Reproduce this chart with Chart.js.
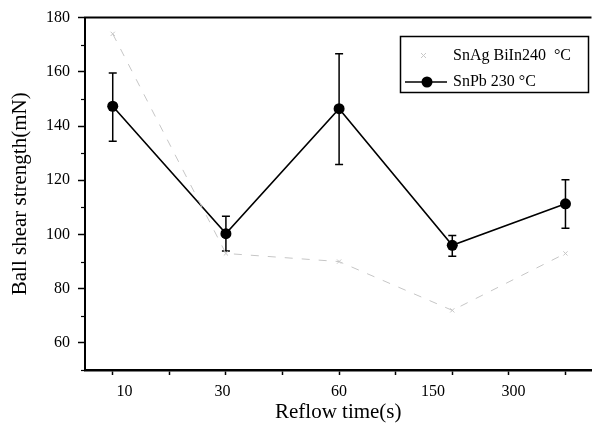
<!DOCTYPE html>
<html><head><meta charset="utf-8">
<script src="https://cdn.jsdelivr.net/npm/chart.js@4/dist/chart.umd.min.js"></script>
<style>html,body{margin:0;padding:0;background:#fff}#wrap{width:597px;height:431px}</style>
</head><body><div id="wrap"><canvas id="c" width="597" height="431"></canvas></div>
<script>
// ---- data ----
const categories = ['10', '30', '60', '150', '300'];          // reflow time (s)
const snpbMean = [147.3, 100.3, 146.4, 96.0, 111.3];           // SnPb 230 °C
const snpbHigh = [159.6, 106.7, 166.7, 99.6, 120.2];
const snpbLow  = [134.4, 93.9, 125.8, 92.0, 102.3];
const snagMean = [174, 93, 90, 72, 93];                        // SnAg BiIn 240 °C
const yTickValues = [60, 80, 100, 120, 140, 160, 180];
const seriesNames = ['SnAg BiIn240\u00a0 \u00b0C', 'SnPb 230 \u00b0C'];

// ---- layout / style (not data) ----
const FONT = '"Liberation Serif", "Times New Roman", serif';
const xMarkStep = 0.5;
const xLabelOffsets = [0.105, 0.97, 2.0, 2.83, 3.54]; // where the original figure printed its category labels
const xMarks = []; for (let v = 0; v <= categories.length - 1 + 1e-9; v += xMarkStep) xMarks.push(+v.toFixed(2));
const xTickSet = Array.from(new Set([...xMarks, ...xLabelOffsets])).sort((a, b) => a - b);

const extras = {
  id: 'extras',
  beforeDatasetsDraw(chart) {
    const {ctx, scales: {x, y}} = chart;
    ctx.save();
    ctx.strokeStyle = '#000'; ctx.lineWidth = 1.5;
    categories.forEach((c, i) => {
      const px = x.getPixelForValue(i);
      const yh = y.getPixelForValue(snpbHigh[i]);
      const yl = y.getPixelForValue(snpbLow[i]);
      ctx.beginPath();
      ctx.moveTo(px, yh); ctx.lineTo(px, yl);
      ctx.moveTo(px - 4, yh); ctx.lineTo(px + 4, yh);
      ctx.moveTo(px - 4, yl); ctx.lineTo(px + 4, yl);
      ctx.stroke();
    });
    ctx.restore();
  },
  afterDraw(chart) {
    const {ctx, chartArea: a, scales: {y}} = chart;
    ctx.save();
    // top frame line
    ctx.strokeStyle = '#000'; ctx.lineWidth = 2;
    ctx.beginPath(); ctx.moveTo(a.left - 1, a.top); ctx.lineTo(a.right, a.top); ctx.stroke();
    // minor y ticks
    ctx.lineWidth = 1.2;
    for (let v = y.min; v < y.max; v += 10) {
      if (yTickValues.includes(v)) continue;
      const py = Math.round(y.getPixelForValue(v)) + 0.5;
      ctx.beginPath(); ctx.moveTo(a.left - 4, py); ctx.lineTo(a.left, py); ctx.stroke();
    }
    // legend box
    const bx = 400, by = 36, bw = 188, bh = 56;
    ctx.lineWidth = 1.5; ctx.strokeStyle = '#000';
    ctx.strokeRect(bx + 0.5, by + 0.5, bw, bh);
    ctx.font = '16px ' + FONT; ctx.fillStyle = '#000'; ctx.textBaseline = 'middle'; ctx.textAlign = 'left';
    // row 1 (faint SnAg symbol)
    ctx.strokeStyle = '#c8c8c8'; ctx.lineWidth = 1;
    ctx.beginPath(); ctx.moveTo(421, 53); ctx.lineTo(426, 58); ctx.moveTo(426, 53); ctx.lineTo(421, 58); ctx.stroke();
    ctx.fillText(seriesNames[0], 453, 56);
    // row 2 (SnPb)
    ctx.strokeStyle = '#000'; ctx.lineWidth = 1.5;
    ctx.beginPath(); ctx.moveTo(405, 82); ctx.lineTo(447, 82); ctx.stroke();
    ctx.beginPath(); ctx.arc(427, 82, 5.5, 0, Math.PI * 2); ctx.fill();
    ctx.fillText(seriesNames[1], 453, 82);
    ctx.restore();
  }
};

new Chart(document.getElementById('c'), {
  type: 'line',
  data: {
    datasets: [
      {
        label: seriesNames[0],
        data: categories.map((c, i) => ({x: i, y: snagMean[i]})),
        borderColor: '#c6c6c6', borderWidth: 1, borderDash: [8, 9],
        pointStyle: 'crossRot', pointRadius: 3, pointBorderColor: '#c6c6c6', pointBorderWidth: 1,
        fill: false, tension: 0
      },
      {
        label: seriesNames[1],
        data: categories.map((c, i) => ({x: i, y: snpbMean[i]})),
        borderColor: '#000', borderWidth: 1.6,
        pointStyle: 'circle', pointRadius: 5.5, pointBackgroundColor: '#000', pointBorderColor: '#000', pointBorderWidth: 0,
        fill: false, tension: 0
      }
    ]
  },
  options: {
    responsive: false, animation: false, devicePixelRatio: 1,
    layout: {padding: {top: 16, right: 0, bottom: 0, left: 0}},
    plugins: {legend: {display: false}, tooltip: {enabled: false}},
    scales: {
      x: {
        type: 'linear', min: -0.245, max: 4.23,
        afterBuildTicks: s => { s.ticks = xTickSet.map(v => ({value: v})); },
        afterFit: s => { s.height = 61; },
        ticks: {
          autoSkip: false, maxRotation: 0, padding: 7, color: '#000',
          font: {family: FONT, size: 16},
          callback: v => { const k = xLabelOffsets.indexOf(v); return k >= 0 ? categories[k] : ''; }
        },
        grid: {
          drawOnChartArea: false, drawTicks: true, tickLength: 5, tickWidth: 1.5,
          tickColor: ctx => (ctx.tick && !xMarks.includes(ctx.tick.value)) ? 'rgba(0,0,0,0)' : '#000'
        },
        border: {display: true, color: '#000', width: 2.5},
        title: {display: true, text: 'Reflow time(s)', color: '#000', font: {family: FONT, size: 21}, padding: {top: 0, bottom: 6}}
      },
      y: {
        min: 50, max: 180,
        afterBuildTicks: s => { s.ticks = yTickValues.map(v => ({value: v})); },
        afterFit: s => { s.width = 85; },
        ticks: {padding: 8, color: '#000', font: {family: FONT, size: 16}},
        grid: {drawOnChartArea: false, drawTicks: true, tickLength: 7, tickWidth: 1.5, tickColor: '#000'},
        border: {display: true, color: '#000', width: 2},
        title: {display: true, text: 'Ball shear strength(mN)', color: '#000', font: {family: FONT, size: 21}, padding: {top: 8, bottom: 0}}
      }
    }
  },
  plugins: [extras]
});
</script>
</body></html>
